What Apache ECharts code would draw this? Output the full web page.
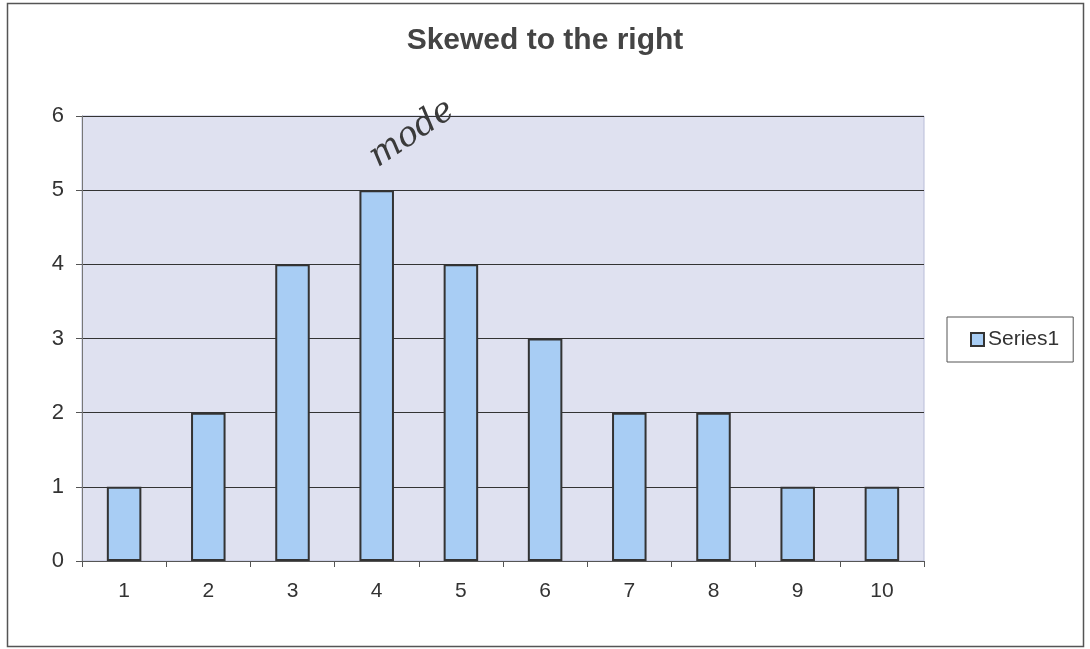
<!DOCTYPE html>
<html>
<head>
<meta charset="utf-8">
<script src="https://cdn.jsdelivr.net/npm/echarts@6/dist/echarts.min.js"></script>
<style>
  html, body { margin: 0; padding: 0; background: #fff; }
  #chart { width: 1090px; height: 649px; }
</style>
</head>
<body>
<div id="chart"></div>
<script>
const categories = ['1', '2', '3', '4', '5', '6', '7', '8', '9', '10']
const series1 = [1, 2, 4, 5, 4, 3, 2, 2, 1, 1]
const modeIndex = 3
const modeNote = 'mode'

const chart = echarts.init(document.getElementById('chart'))

const barData = series1.map((v, i) => {
  if (i !== modeIndex) return v
  return {
    value: v,
    label: {
      show: true,
      formatter: modeNote,
      position: 'top',
      rotate: 34,
      offset: [58, -6],
      fontFamily: 'DejaVu Serif',
      fontStyle: 'italic',
      fontSize: 34,
      color: '#3a3a3a'
    }
  }
})

const option = {
  animation: false,
  backgroundColor: '#fff',
  textStyle: { fontFamily: 'Liberation Sans, Arial, sans-serif' },
  title: {
    text: 'Skewed to the right',
    left: 'center',
    top: 21,
    textStyle: { fontSize: 30, fontWeight: 'bold', color: '#444' }
  },
  legend: {
    data: ['Series1'],
    orient: 'vertical',
    left: 947,
    top: 317,
    padding: [12, 14, 12, 23],
    backgroundColor: '#fff',
    borderColor: '#555',
    borderWidth: 1,
    borderRadius: 0,
    icon: 'rect',
    itemWidth: 13,
    itemHeight: 13,
    itemGap: 4,
    itemStyle: { borderColor: '#333', borderWidth: 2 },
    textStyle: { fontSize: 21, color: '#333', padding: [0, 0, 0, -1] }
  },
  grid: {
    left: 82,
    right: 166,
    top: 116,
    bottom: 88,
    show: true,
    backgroundColor: '#dfe1f0',
    borderColor: '#b8bcd8',
    borderWidth: 1
  },
  xAxis: {
    type: 'category',
    data: categories,
    axisLine: { lineStyle: { color: '#555', width: 1 } },
    axisTick: { show: true, length: 6, lineStyle: { color: '#555' } },
    axisLabel: { fontSize: 21, color: '#333', margin: 20 }
  },
  yAxis: {
    type: 'value',
    min: 0,
    max: 6,
    interval: 1,
    axisLine: { show: true, lineStyle: { color: '#777', width: 1 } },
    axisTick: { show: true, length: 6, lineStyle: { color: '#555' } },
    axisLabel: { fontSize: 22, color: '#333', margin: 18 },
    splitLine: { lineStyle: { color: '#333', width: 1 } }
  },
  series: [
    {
      name: 'Series1',
      type: 'bar',
      data: barData,
      barWidth: '41%',
      itemStyle: {
        color: '#a8cdf4',
        borderColor: '#333',
        borderWidth: 2
      }
    }
  ],
  graphic: [
    {
      type: 'rect',
      shape: { x: 7.5, y: 3.5, width: 1076, height: 643 },
      style: { fill: 'none', stroke: '#555', lineWidth: 1.5 },
      silent: true
    }
  ]
}

chart.setOption(option)
</script>
</body>
</html>
